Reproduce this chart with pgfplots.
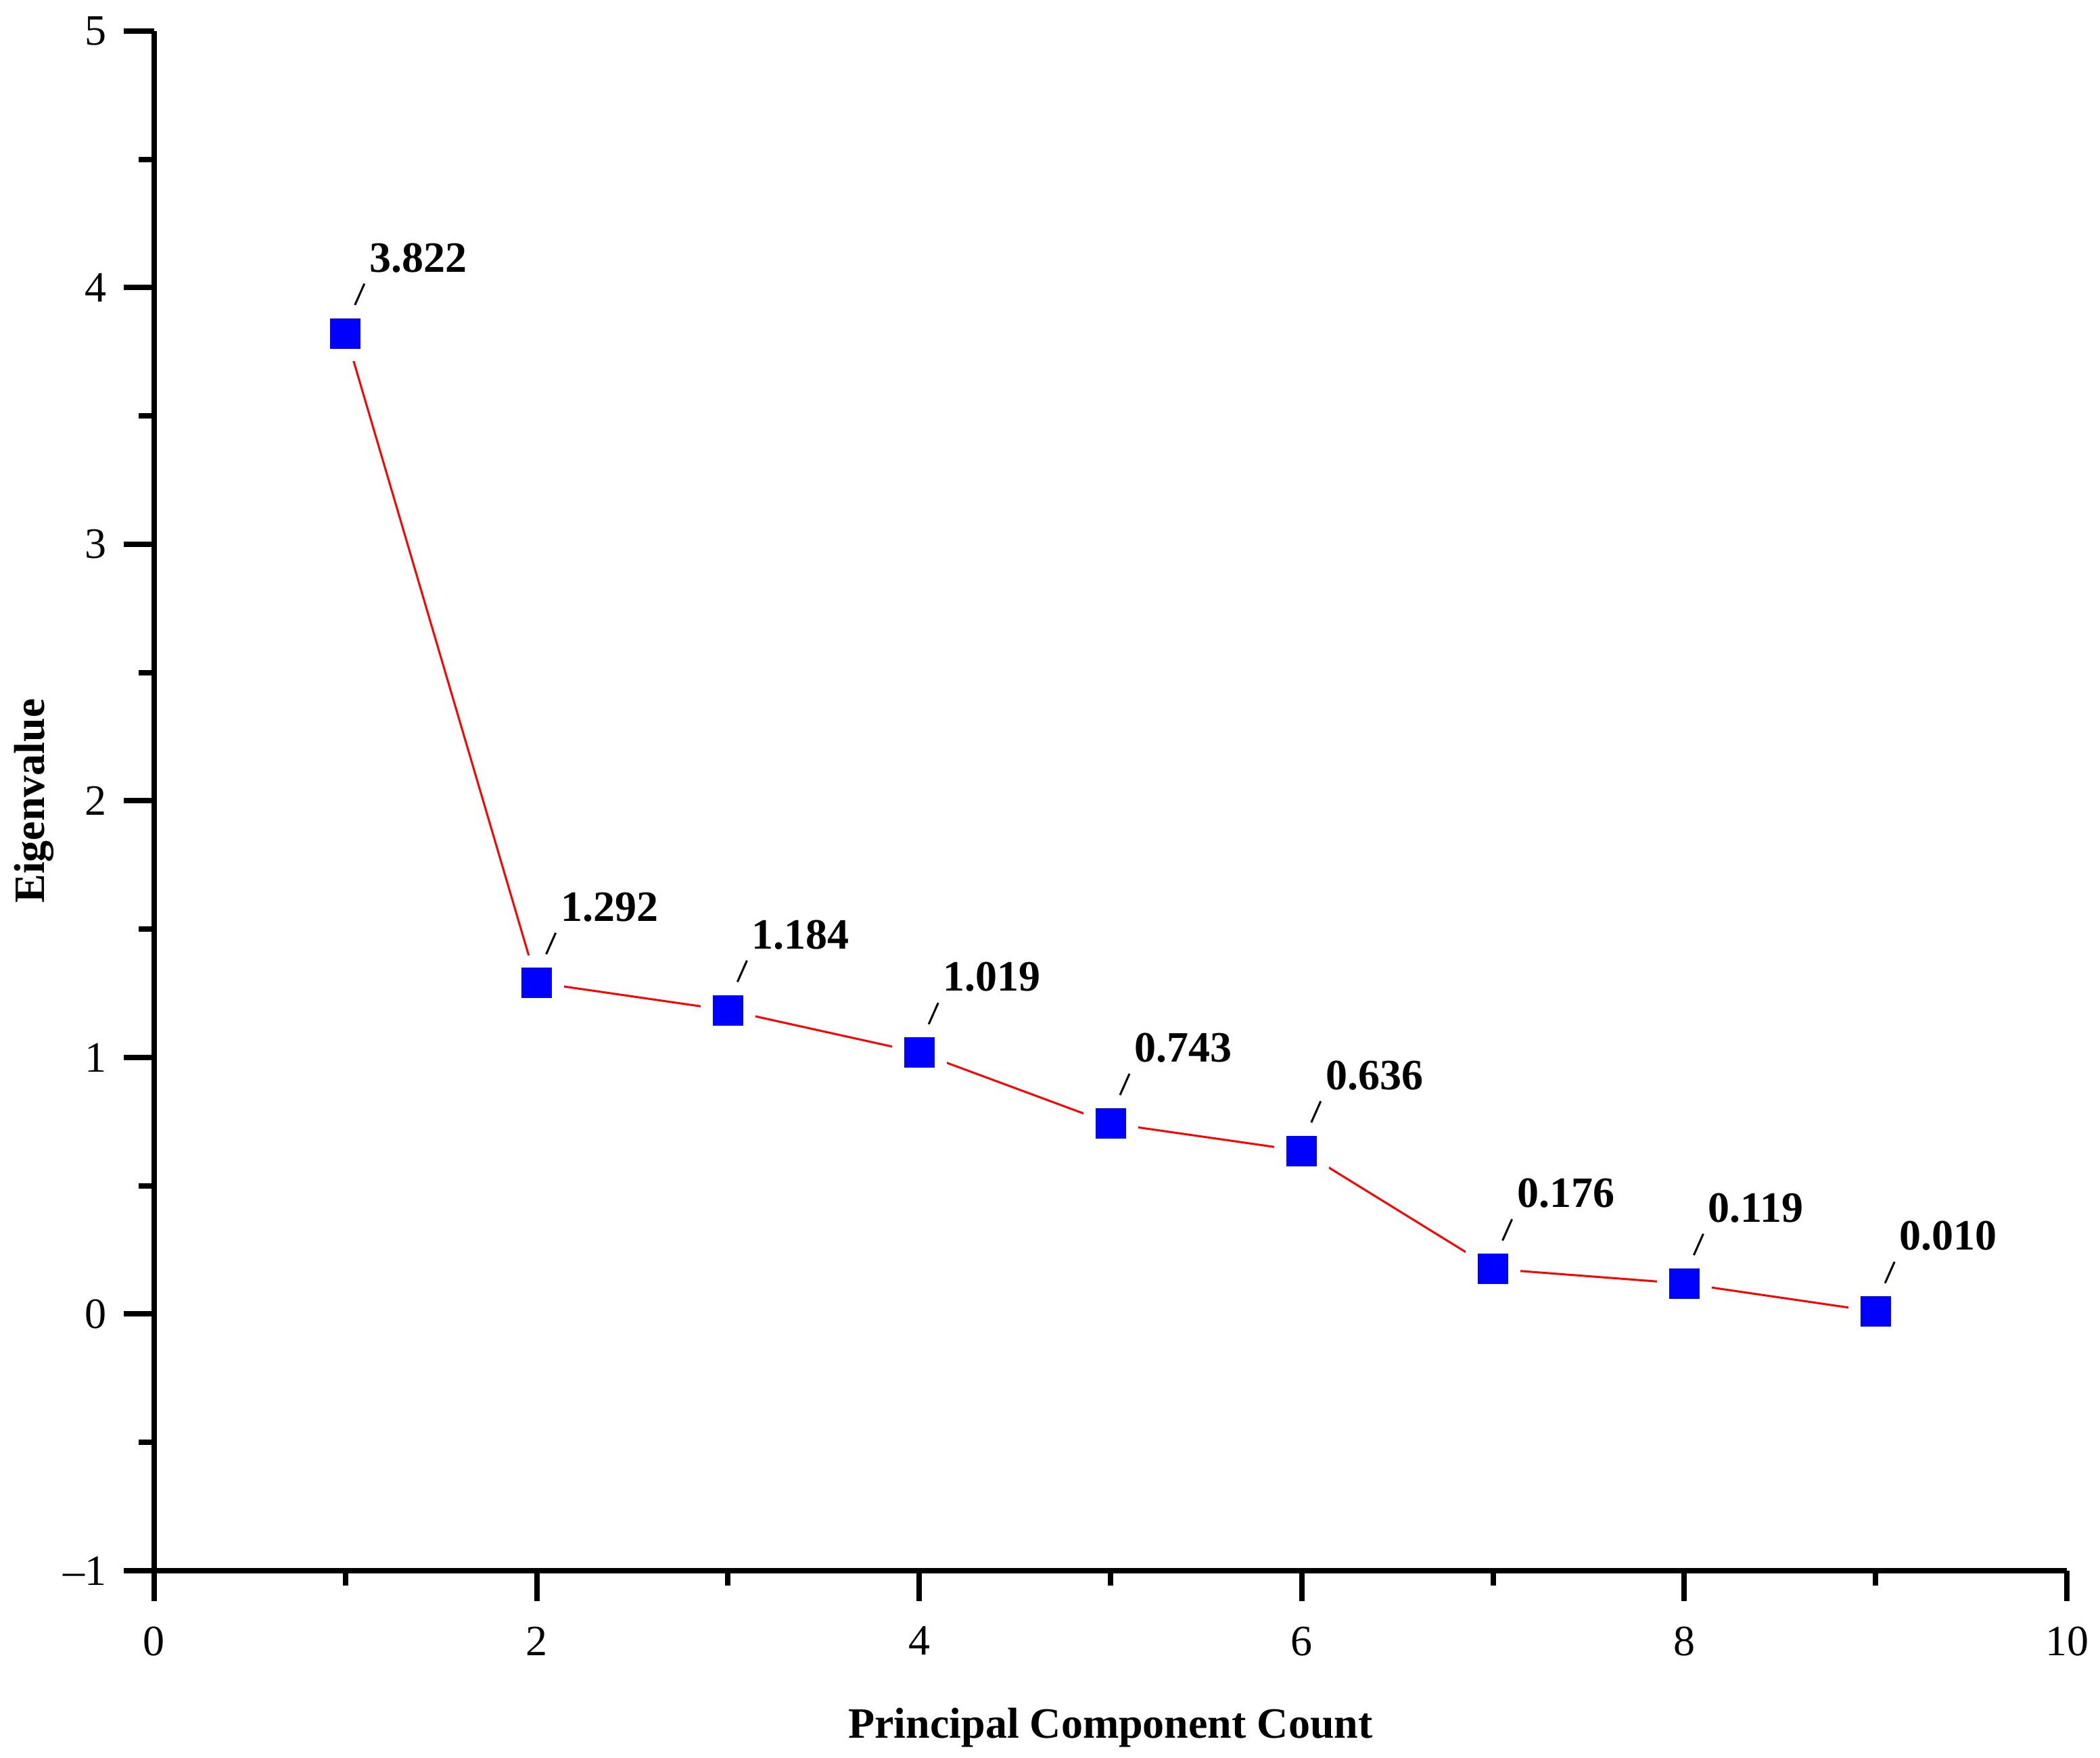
\documentclass[border=0pt]{standalone}
\usepackage{fontspec}
\setmainfont{Liberation Serif}
\usepackage{pgfplots}
\pgfplotsset{compat=1.18}
\usepackage{pgfplotstable}

\newcommand\fs{\fontsize{12.8}{15}\selectfont}

% leader line from marker to value label
\pgfdeclareplotmark{leader}{%
  \pgfpathmoveto{\pgfqpoint{2.8pt}{8.4pt}}%
  \pgfpathlineto{\pgfqpoint{5.6pt}{14.7pt}}%
  \pgfusepathqstroke}

\pgfplotstableread{
x y lab
1 3.822 3.822
2 1.292 1.292
3 1.184 1.184
4 1.019 1.019
5 0.743 0.743
6 0.636 0.636
7 0.176 0.176
8 0.119 0.119
9 0.010 0.010
}\eigen

\begin{document}
\begin{tikzpicture}
\begin{axis}[
  scale only axis,
  width=565.6pt, height=455.4pt,
  xmin=0, xmax=10, ymin=-1, ymax=5,
  axis lines*=left,
  axis line style={line width=1.6pt},
  xtick={0,2,...,10}, ytick={-1,0,...,5},
  yticklabels={–1,0,1,2,3,4,5},
  minor x tick num=1, minor y tick num=1,
  tick align=outside,
  major tick length=9pt, minor tick length=4.5pt,
  every tick/.style={black, line width=1.6pt},
  /pgf/number format/assume math mode=true,
  tick label style={font=\fs},
  xticklabel style={yshift=-4pt},
  yticklabel style={xshift=-1.5pt},
  xlabel={\bfseries Principal Component Count},
  ylabel={\bfseries Eigenvalue},
  label style={font=\fs},
  xlabel style={at={(axis description cs:0.5,-0.1085)}, anchor=base},
  ylabel style={at={(axis description cs:-0.0576,0.5)}, anchor=base},
  clip=false,
]
\addplot[red, line width=0.6pt,
  mark=square*, mark size=6.3pt,
  mark options={fill=blue, draw=white, line width=3.6pt}]
  table[x=x, y=y] {\eigen};
\addplot[only marks, mark=leader, mark options={black, line width=0.6pt},
  nodes near coords, point meta=explicit symbolic,
  every node near coord/.append style={anchor=base west, inner sep=0pt,
    xshift=6.8pt, yshift=18.2pt, font=\fs\bfseries, text=black}]
  table[x=x, y=y, meta=lab] {\eigen};
\coordinate (ll) at (rel axis cs:0,0);
\coordinate (ur) at (rel axis cs:1,1);
\end{axis}
\pgfresetboundingbox
\path ([shift={(-45.6pt,-55.4pt)}]ll) rectangle ([shift={(9.8pt,9.2pt)}]ur);
\end{tikzpicture}
\end{document}
